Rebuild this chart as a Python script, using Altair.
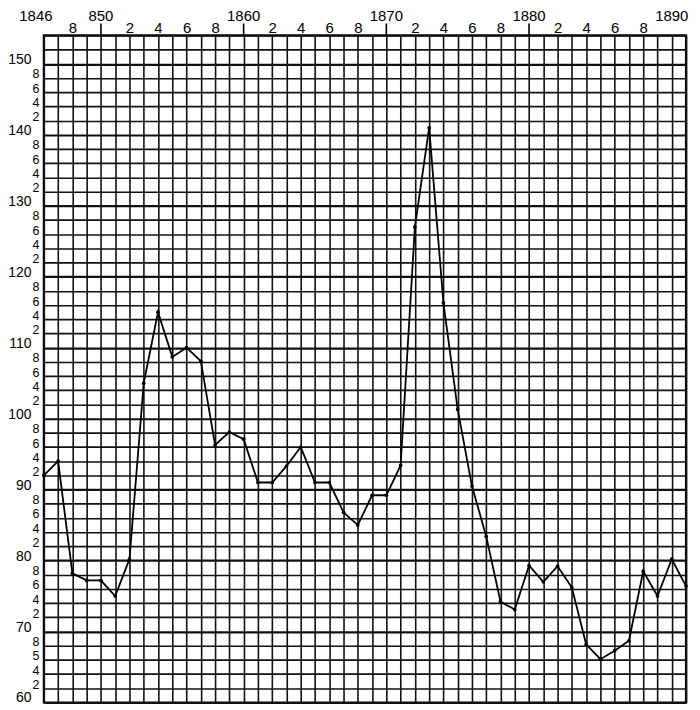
import altair as alt
import pandas as pd

# ---- data ----
years = list(range(1846, 1892))
values = [92, 94, 78.2, 77.2, 77.2, 75, 80.2,
          105, 115, 108.7, 110, 108.1, 96.3, 98.1, 97.1,
          91, 91, 93.3, 96, 91, 91, 86.8, 85, 89.2, 89.2,
          93.4, 127, 141, 116.3, 101.3, 90.5, 83.4, 74.2, 73.1, 79.3,
          77, 79.2, 76.2, 68.2, 66.1, 67.3, 68.7, 78.5, 75, 80.2,
          76.4]

x_first_year = [1846]
x_first_label = ["1846"]
x_top_years = [1850, 1860, 1870, 1880, 1890]
x_top_labels = ["850", "1860", "1870", "1880", "1890"]
x_sub_years = [1848, 1852, 1854, 1856, 1858, 1862, 1864, 1866, 1868,
               1872, 1874, 1876, 1878, 1882, 1884, 1886, 1888]
x_sub_labels = ["8", "2", "4", "6", "8", "2", "4", "6", "8",
                "2", "4", "6", "8", "2", "4", "6", "8"]

y_tens_values = [60, 70, 80, 90, 100, 110, 120, 130, 140, 150]
y_tens_labels = ["60", "70", "80", "90", "100", "110", "120", "130", "140", "150"]
y_unit_values = [62, 64, 66, 68, 72, 74, 76, 78, 82, 84, 86, 88, 92, 94, 96, 98,
                 102, 104, 106, 108, 112, 114, 116, 118, 122, 124, 126, 128,
                 132, 134, 136, 138, 142, 144, 146, 148]
y_unit_labels = ["2", "4", "5", "8", "2", "4", "6", "8", "2", "4", "6", "8",
                 "2", "4", "6", "8", "2", "4", "6", "8", "2", "4", "6", "8",
                 "2", "4", "6", "8", "2", "4", "6", "8", "2", "4", "6", "8"]
y_grid_values = list(range(60, 156, 2))

decade_tick_years = [1850, 1860, 1870, 1880]

df = pd.DataFrame({"year": years, "value": values})
ticks_df = pd.DataFrame({"year": decade_tick_years})
first_df = pd.DataFrame({"year": x_first_year, "label": x_first_label})
top_df = pd.DataFrame({"year": x_top_years, "label": x_top_labels})
tens_df = pd.DataFrame({"value": y_tens_values, "label": y_tens_labels})

# ---- label expressions for the axes (small labels) ----
parts = [f"datum.value == {yv} ? '{t}'" for yv, t in zip(x_sub_years, x_sub_labels)]
x_expr = " : ".join(parts) + " : ''"
yparts = [f"datum.value == {v} ? '{t}'" for v, t in zip(y_unit_values, y_unit_labels)]
y_expr = " : ".join(yparts) + " : ''"

FONT = "Liberation Sans"
FS = 15
FS_Y = 14
FS_U = 12.5

xscale = alt.Scale(domain=[1846, 1891], nice=False, zero=False)
yscale = alt.Scale(domain=[60, 154], nice=False, zero=False)

x_enc = alt.X(
    "year:Q", scale=xscale,
    axis=alt.Axis(
        orient="top", title=None, values=years, grid=True, ticks=False,
        domain=False, labelExpr=x_expr, labelFont=FONT, labelFontSize=FS,
        labelColor="black", labelPadding=3, labelBaseline="alphabetic",
        labelOverlap=False, labelFlush=False,
        gridColor="#111111", gridWidth=1.6,
    ),
)
y_enc = alt.Y(
    "value:Q", scale=yscale,
    axis=alt.Axis(
        orient="left", title=None, values=y_grid_values, grid=True, ticks=False,
        domain=False, labelExpr=y_expr, labelFont=FONT, labelFontSize=FS_U,
        labelColor="black", labelPadding=5, labelBaseline="alphabetic",
        labelAlign="right", labelOverlap=False, labelFlush=False,
        gridColor="#111111",
        gridWidth={"condition": {"test": "datum.value % 10 == 0", "value": 2.2},
                   "value": 1.6},
    ),
)

line = alt.Chart(df).mark_line(color="black", strokeWidth=1.8).encode(x=x_enc, y=y_enc)
pts = alt.Chart(df).mark_circle(color="black", size=14, opacity=1).encode(x=x_enc, y=y_enc)
rules = alt.Chart(ticks_df).mark_rule(color="black", strokeWidth=1.6).encode(
    x=x_enc, y=alt.value(-12), y2=alt.value(0)
)
top_text = alt.Chart(top_df).mark_text(
    font=FONT, fontSize=FS, color="black", align="center", baseline="alphabetic"
).encode(x=x_enc, y=alt.value(-14), text="label:N")
first_text = alt.Chart(first_df).mark_text(
    font=FONT, fontSize=FS, color="black", align="center", baseline="alphabetic", dx=-8
).encode(x=x_enc, y=alt.value(-14), text="label:N")
tens_text = alt.Chart(tens_df).mark_text(
    font=FONT, fontSize=FS_Y, color="black", align="right", baseline="alphabetic"
).encode(x=alt.value(-12.5), y=y_enc, text="label:N")

chart = alt.layer(line, pts, rules, top_text, first_text, tens_text).properties(
    width=645, height=670,
    autosize=alt.AutoSizeParams(type="none"),
    padding={"left": 36, "top": 26, "right": 6, "bottom": 2},
    background="white",
).configure_view(stroke="black", strokeWidth=2.2)

chart.save("out.html", embed_options={"renderer": "svg", "actions": False})
